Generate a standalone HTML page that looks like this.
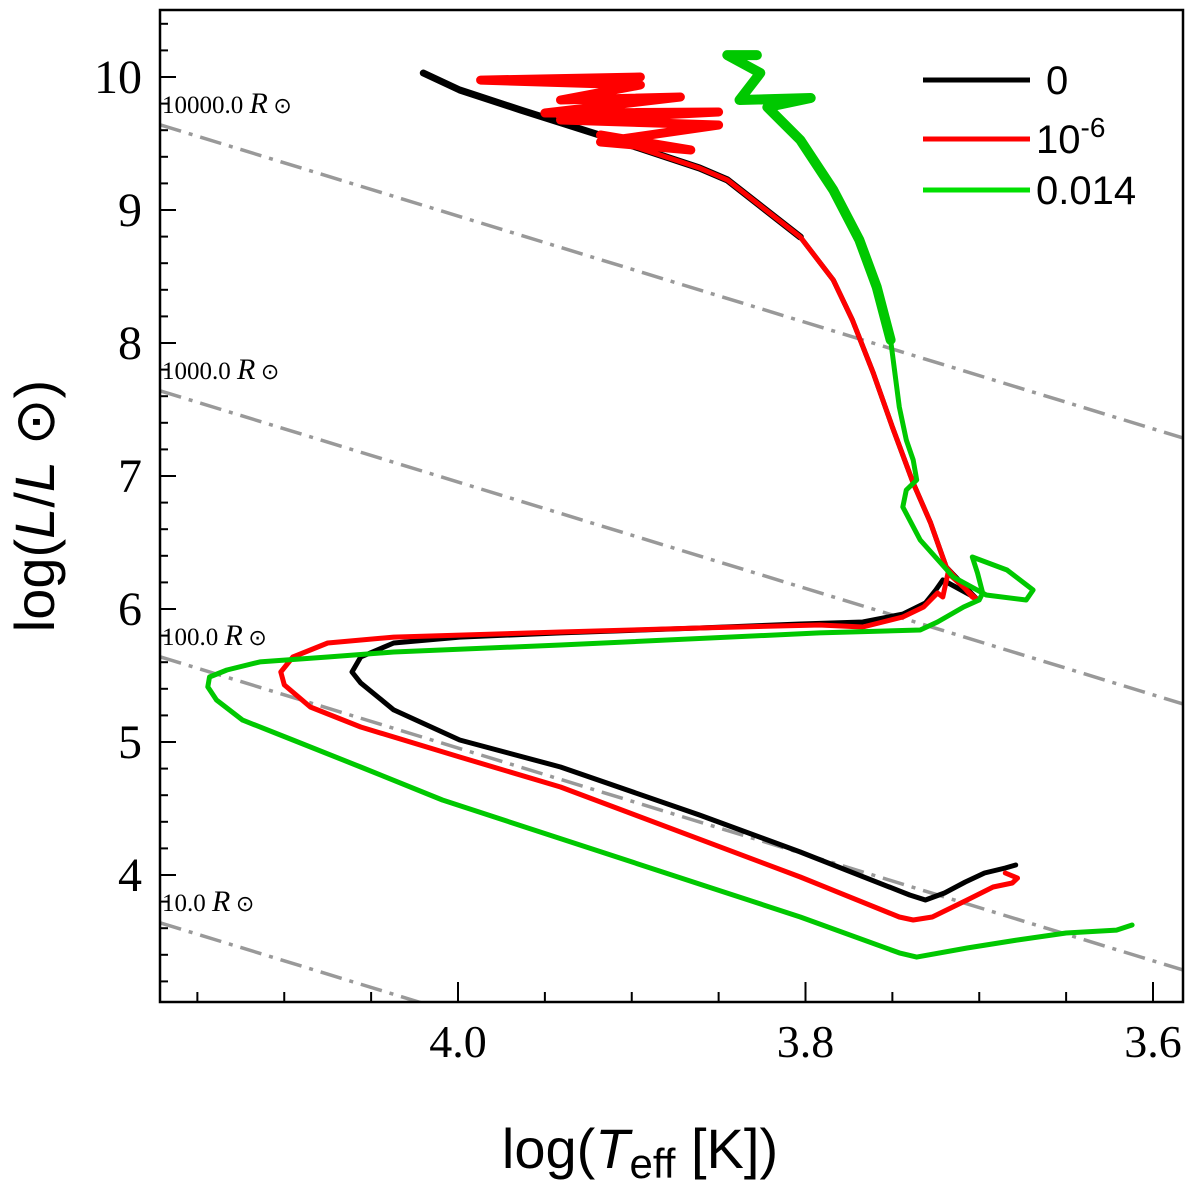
<!DOCTYPE html>
<html><head><meta charset="utf-8"><style>
html,body{margin:0;padding:0;background:#fff;}
svg{display:block;}
</style></head><body>
<svg id="chart" width="1200" height="1192" viewBox="0 0 1200 1192" xmlns="http://www.w3.org/2000/svg">
<defs><clipPath id="clip"><rect x="160" y="10" width="1023" height="992"/></clipPath></defs>
<g id="radii" clip-path="url(#clip)"></g>
<g id="tracks" clip-path="url(#clip)"></g>
<g id="axes"></g>
<g id="legend"></g>
<text transform="translate(54,506) rotate(-90)" text-anchor="middle" font-family="Liberation Sans, DejaVu Sans, sans-serif" font-size="56">log(<tspan font-style="italic">L</tspan>/<tspan font-style="italic">L</tspan> ⊙)</text>
<text x="640" y="1168" text-anchor="middle" font-family="Liberation Sans, DejaVu Sans, sans-serif" font-size="56">log(<tspan font-style="italic">T</tspan><tspan font-size="42" dy="10">eff</tspan><tspan dy="-10"> [K])</tspan></text>
</svg>
<script>
const radiiValues = [10, 100, 1000, 10000];
const radiiLabels = ["10.0", "100.0", "1000.0", "10000.0"];
const xTicks = [4.0, 3.8, 3.6];
const xTickLabels = ["4.0", "3.8", "3.6"];
const yTicks = [4, 5, 6, 7, 8, 9, 10];
const yTickLabels = ["4", "5", "6", "7", "8", "9", "10"];
const seriesNames = ["0", "10", "0.014"];
const blackT = [3.679,3.685,3.697,3.708,3.720,3.731,3.740,3.803,3.861,3.941,3.999,4.037,4.056,4.061,4.056,4.037,3.999,3.941,3.861,3.803,3.767,3.744,3.731,3.725,3.721,3.702,3.719,3.728,3.738,3.750,3.761,3.773,3.784,3.803,3.845,3.861,3.915,3.964,3.999,4.020];
const blackL = [4.075,4.053,4.015,3.947,3.865,3.812,3.850,4.173,4.451,4.812,5.015,5.241,5.444,5.526,5.639,5.744,5.789,5.820,5.857,5.887,5.902,5.962,6.045,6.143,6.218,6.083,6.316,6.647,6.947,7.368,7.774,8.173,8.474,8.797,9.226,9.316,9.549,9.752,9.902,10.030];
const redT = [3.685,3.678,3.681,3.692,3.707,3.727,3.738,3.746,3.803,3.941,3.999,4.056,4.085,4.100,4.102,4.095,4.075,4.037,3.941,3.861,3.792,3.767,3.744,3.732,3.724,3.721,3.718,3.701,3.704,3.719,3.728,3.738,3.750,3.761,3.773,3.784,3.803,3.845,3.861,3.915,3.918,3.866,3.918,3.850,3.941,3.850,3.950,3.872,3.941,3.895,3.987,3.895];
const redL = [4.015,3.977,3.940,3.910,3.812,3.684,3.662,3.684,3.985,4.662,4.887,5.113,5.263,5.429,5.526,5.639,5.744,5.789,5.827,5.857,5.880,5.865,5.940,6.015,6.120,6.090,6.271,6.068,6.090,6.316,6.647,6.947,7.368,7.774,8.173,8.474,8.797,9.226,9.316,9.549,9.564,9.451,9.511,9.639,9.677,9.737,9.729,9.850,9.827,9.940,9.977,10.000];
const greenT = [3.612,3.621,3.650,3.678,3.707,3.736,3.746,3.803,4.009,4.056,4.095,4.124,4.139,4.144,4.143,4.133,4.114,4.075,4.037,3.941,3.792,3.734,3.724,3.709,3.700,3.698,3.701,3.704,3.684,3.669,3.673,3.696,3.715,3.734,3.744,3.742,3.736,3.738,3.742,3.746,3.751,3.759,3.769,3.784,3.803,3.822,3.797,3.838,3.826,3.845,3.828];
const greenL = [3.624,3.586,3.564,3.511,3.451,3.383,3.414,3.684,4.564,4.812,5.015,5.165,5.316,5.414,5.489,5.541,5.602,5.639,5.677,5.729,5.820,5.842,5.902,6.015,6.068,6.120,6.271,6.391,6.293,6.143,6.068,6.105,6.241,6.519,6.767,6.895,6.970,7.120,7.271,7.519,8.023,8.421,8.774,9.150,9.526,9.774,9.842,9.827,10.030,10.165,10.165];

const NS = "http://www.w3.org/2000/svg";
const X0 = 160, X1 = 1183, Y0 = 10, Y1 = 1002;
function xs(t){ return 458 + (4.0 - t) * 1737.5; }
function ys(l){ return 77 + (10 - l) * 133; }
const tMin = 4.0 - (X1 - 458) / 1737.5, tMax = 4.0 + (458 - X0) / 1737.5;
function mk(tag, attrs, parent){ const e = document.createElementNS(NS, tag); for (const k in attrs) e.setAttribute(k, attrs[k]); parent.appendChild(e); return e; }

const rg = document.getElementById('radii');
const svg = document.getElementById('chart');
radiiValues.forEach((R, i) => {
  const lum = t => 2 * Math.log10(R) + 4 * (t - 3.7613);
  const ln = mk('line', {x1: xs(tMax), y1: ys(lum(tMax)), x2: xs(tMin), y2: ys(lum(tMin)), stroke: '#999', 'stroke-width': 3.5, 'stroke-dasharray': '22,8,4,8'}, rg);
  
  
  const tx = mk('text', {x: 162, y: ys(lum(tMax)) - 12, 'font-family': 'Liberation Serif, serif', 'font-size': 25}, svg);
  tx.innerHTML = radiiLabels[i] + ' <tspan font-style="italic" font-size="30">R</tspan><tspan font-size="22"> ⊙</tspan>';
  
  
});

const tg = document.getElementById('tracks');
function path(T, L, color, w, name){
  const d = T.map((t, i) => (i ? 'L' : 'M') + xs(t).toFixed(1) + ',' + ys(L[i]).toFixed(1)).join(' ');
  const p = mk('path', {d: d, fill: 'none', stroke: color, 'stroke-width': w, 'stroke-linejoin': 'round', 'stroke-linecap': 'round'}, tg);
  
  
}
path(blackT, blackL, '#000', 5, 'track-z0');
path(blackT.slice(33), blackL.slice(33), '#000', 7, 'track-z0-upper');
path(redT, redL, '#f00', 5, 'track-z1e-6');
path(redT.slice(39), redL.slice(39), '#f00', 9, 'track-z1e-6-upper');
path(greenT, greenL, '#00c800', 5, 'track-z0014');
path(greenT.slice(40), greenL.slice(40), '#00c800', 10, 'track-z0014-upper');

const ag = document.getElementById('axes');
const frame = mk('rect', {x: X0, y: Y0, width: X1 - X0, height: Y1 - Y0, fill: 'none', stroke: '#000', 'stroke-width': 2.5}, ag);


for (let k = 0; k <= 12; k++) {
  const t = 4.15 - k * 0.05;
  const x = xs(t);
  if (x < X0 || x > X1) continue;
  const major = xTicks.some(v => Math.abs(v - t) < 1e-6);
  const tk = mk('line', {x1: x, y1: Y1, x2: x, y2: Y1 - (major ? 20 : 10), stroke: '#000', 'stroke-width': 2}, ag);
  
  
}
xTicks.forEach((t, i) => {
  const tx = mk('text', {x: xs(t), y: 1057, 'text-anchor': 'middle', 'font-family': 'Liberation Serif, serif', 'font-size': 46}, ag);
  tx.textContent = xTickLabels[i];
  
  
});
for (let k = 0; k <= 40; k++) {
  const l = 3.2 + k * 0.2;
  const y = ys(l);
  if (y < Y0 || y > Y1) continue;
  const major = Math.abs(l - Math.round(l)) < 1e-6;
  const tk = mk('line', {x1: X0, y1: y, x2: X0 + (major ? 16 : 8), y2: y, stroke: '#000', 'stroke-width': 2}, ag);
  
  
}
yTicks.forEach((l, i) => {
  const tx = mk('text', {x: 142, y: ys(l) + 16, 'text-anchor': 'end', 'font-family': 'Liberation Serif, serif', 'font-size': 48}, ag);
  tx.textContent = yTickLabels[i];
  
  
});

const lg = document.getElementById('legend');
const legColors = ['#000', '#f00', '#00e000'];
const legY = [80, 139, 190];
seriesNames.forEach((n, i) => {
  const ln = mk('line', {x1: 923, y1: legY[i], x2: 1030, y2: legY[i], stroke: legColors[i], 'stroke-width': 5}, lg);
  
  
  const tx = mk('text', {x: i === 0 ? 1046 : 1036, y: legY[i] + 14, 'font-family': 'Liberation Sans, sans-serif', 'font-size': 40}, lg);
  if (i === 1) tx.innerHTML = '10<tspan font-size="28" dy="-16">-6</tspan>';
  else tx.textContent = n;
  
  
});
</script>
</body></html>
